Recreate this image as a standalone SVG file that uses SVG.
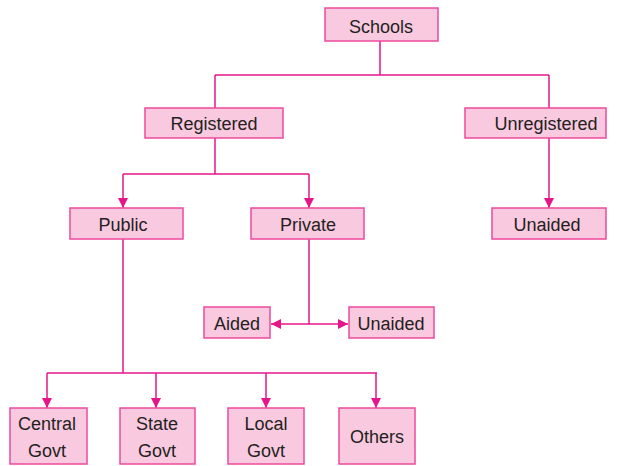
<svg xmlns="http://www.w3.org/2000/svg" width="625" height="466" viewBox="0 0 625 466">
<style>
.box{fill:#f8c9df;stroke:#ee4a9c;stroke-width:1.5}
.t{font-family:"Liberation Sans",Arial,sans-serif;font-size:18px;fill:#231f20;text-anchor:middle}
.ln{fill:none;stroke:#e6168a;stroke-width:1.5}
</style>
<defs>
<marker id="ah" viewBox="0 0 10 10" refX="10" refY="5" markerWidth="10" markerHeight="10" markerUnits="userSpaceOnUse" orient="auto">
<path d="M0,0 L10,5 L0,10 Z" fill="#e6168a"/>
</marker>
</defs>
<rect width="625" height="466" fill="#ffffff"/>
<g id="connectors">
<path class="ln" d="M380,41 V75 M215,75 H549 M215,75 V108 M549,75 V108"/>
<path class="ln" d="M215,138 V174 M123,174 H309"/>
<path class="ln" d="M123,174 V208" marker-end="url(#ah)"/>
<path class="ln" d="M309,174 V208" marker-end="url(#ah)"/>
<path class="ln" d="M549,138 V208" marker-end="url(#ah)"/>
<path class="ln" d="M309,239 V324"/>
<path class="ln" d="M309,324 H271" marker-end="url(#ah)"/>
<path class="ln" d="M309,324 H348" marker-end="url(#ah)"/>
<path class="ln" d="M123,239 V373 M47,373 H377"/>
<path class="ln" d="M47,373 V408" marker-end="url(#ah)"/>
<path class="ln" d="M156,373 V408" marker-end="url(#ah)"/>
<path class="ln" d="M266,373 V408" marker-end="url(#ah)"/>
<path class="ln" d="M376,373 V408" marker-end="url(#ah)"/>
</g>
<g id="schools"><rect class="box" x="325" y="8" width="113" height="33"/><text class="t" x="381" y="33">Schools</text></g>
<g id="registered"><rect class="box" x="145" y="108" width="138" height="30"/><text class="t" x="214" y="130">Registered</text></g>
<g id="unregistered"><rect class="box" x="465" y="108" width="141" height="30"/><text class="t" x="546" y="130">Unregistered</text></g>
<g id="public"><rect class="box" x="70" y="208" width="113" height="31"/><text class="t" x="123" y="231">Public</text></g>
<g id="private"><rect class="box" x="251" y="208" width="113" height="31"/><text class="t" x="308" y="231">Private</text></g>
<g id="unaided-unreg"><rect class="box" x="492" y="208" width="114" height="31"/><text class="t" x="547" y="231">Unaided</text></g>
<g id="aided"><rect class="box" x="204" y="307" width="66" height="31"/><text class="t" x="237" y="330">Aided</text></g>
<g id="unaided-priv"><rect class="box" x="349" y="307" width="85" height="31"/><text class="t" x="391" y="330">Unaided</text></g>
<g id="central"><rect class="box" x="10" y="408" width="77" height="56"/><text class="t" x="47" y="430">Central</text><text class="t" x="47" y="457">Govt</text></g>
<g id="state"><rect class="box" x="120" y="408" width="75" height="56"/><text class="t" x="157" y="430">State</text><text class="t" x="157" y="457">Govt</text></g>
<g id="local"><rect class="box" x="228" y="408" width="76" height="56"/><text class="t" x="266" y="430">Local</text><text class="t" x="266" y="457">Govt</text></g>
<g id="others"><rect class="box" x="339" y="408" width="76" height="56"/><text class="t" x="377" y="443">Others</text></g>
</svg>
